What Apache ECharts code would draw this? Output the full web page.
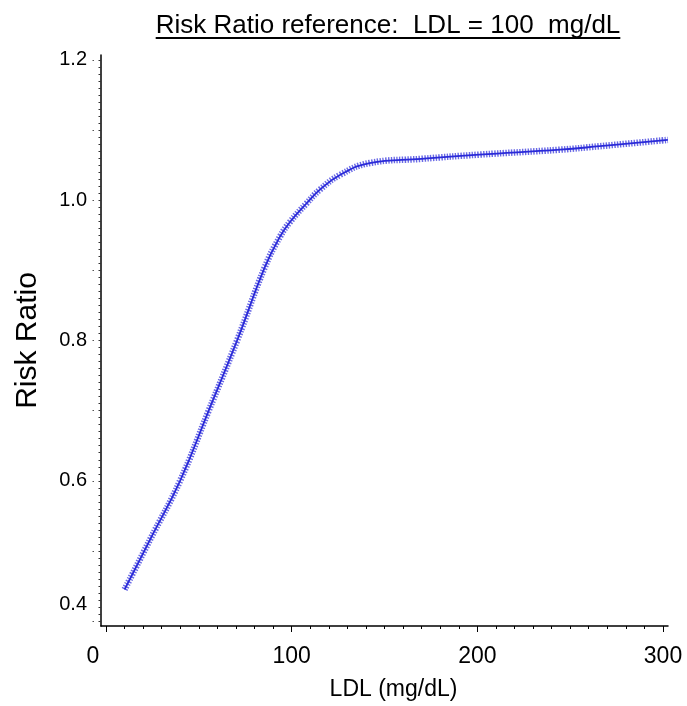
<!DOCTYPE html>
<html>
<head>
<meta charset="utf-8">
<script src="https://cdn.jsdelivr.net/npm/echarts@6/dist/echarts.min.js"></script>
<style>html,body{margin:0;padding:0;background:#fff;}#c{width:687px;height:706px;}</style>
</head>
<body>
<div id="c"></div>
<script>
// values
const ldl  = [10, 23.7, 39.9, 55, 70.6, 85.6, 93.7, 99.1, 108.2, 115.2, 126, 142, 170, 201, 244.5, 266, 302.6];
const risk = [0.445, 0.516, 0.600, 0.698, 0.800, 0.905, 0.948, 0.969, 0.996, 1.015, 1.036, 1.053, 1.059, 1.065, 1.072, 1.077, 1.086];
const xTickLabels = [0, 100, 200, 300];
const yTickLabels = [0.4, 0.6, 0.8, 1.0, 1.2];
const titleText = 'Risk Ratio reference:  LDL = 100  mg/dL';

const xMinor = []; for (let v = 0; v <= 300; v += 10) xMinor.push(v);
const yMinor = []; for (let i = 40; i <= 120; i++) yMinor.push(i / 100);
const yMid = []; for (let i = 4; i <= 12; i++) yMid.push(i / 10);

const pts = ldl.map((x, i) => [x, risk[i]]);
const FONT = '"Liberation Sans", Arial, sans-serif';

const titleFont = '26px ' + FONT;
const cv = document.createElement('canvas').getContext('2d');
cv.font = '26px "Liberation Sans"';
const tw = cv.measureText(titleText).width;
const tcx = 388;

const chart = echarts.init(document.getElementById('c'), null, {renderer: 'canvas'});
const X = {min: -2.7, max: 302.7};
const Y = {min: 0.393, max: 1.207};
chart.setOption({
  animation: false,
  backgroundColor: '#fff',
  grid: {left: 101, right: 19, top: 55, bottom: 80, containLabel: false, outerBoundsMode: 'none'},
  graphic: [
    {type: 'text', x: tcx, y: 26, style: {text: titleText, font: titleFont, fill: '#000', textAlign: 'center', textVerticalAlign: 'middle'}},
    {type: 'rect', shape: {x: tcx - tw / 2, y: 37, width: tw, height: 2}, style: {fill: '#000'}}
  ],
  xAxis: [{
    type: 'value', min: X.min, max: X.max, position: 'bottom',
    name: 'LDL (mg/dL)', nameLocation: 'middle', nameGap: 52,
    nameTextStyle: {fontFamily: FONT, fontSize: 23, color: '#000', padding: [0, 0, 0, 18]},
    axisLine: {show: true, onZero: false, lineStyle: {color: '#000', width: 1.5}},
    axisTick: {show: true, customValues: xTickLabels, length: 6, lineStyle: {color: '#000', width: 1}},
    axisLabel: {
      customValues: xTickLabels, margin: 19, color: '#000', fontFamily: FONT, fontSize: 23,
      formatter: v => v === 0 ? '{z|0}' : String(v),
      rich: {z: {fontFamily: FONT, fontSize: 23, color: '#000', padding: [0, 26, 0, 0]}}
    },
    splitLine: {show: false}
  }, {
    type: 'value', min: X.min, max: X.max, position: 'bottom',
    axisLine: {show: false, onZero: false},
    axisTick: {show: true, customValues: xMinor, length: 3, lineStyle: {color: '#000', width: 1}},
    axisLabel: {show: false}, splitLine: {show: false}
  }],
  yAxis: [{
    type: 'value', min: Y.min, max: Y.max, position: 'left',
    name: 'Risk Ratio', nameLocation: 'middle', nameGap: 58, nameRotate: 90,
    nameTextStyle: {fontFamily: FONT, fontSize: 30, color: '#000'},
    axisLine: {show: true, onZero: false, lineStyle: {color: '#000', width: 1.5}},
    axisTick: {show: true, customValues: yMinor, length: 2.5, lineStyle: {color: '#333', width: 1}},
    axisLabel: {
      customValues: yTickLabels, margin: 14, color: '#000', fontFamily: FONT, fontSize: 20,
      formatter: v => Math.abs(v - 0.4) < 1e-6 ? '{d|0.4}' : v.toFixed(1),
      rich: {d: {fontFamily: FONT, fontSize: 20, color: '#000', padding: [0, 0, 34, 0]}}
    },
    splitLine: {show: false}
  }, {
    type: 'value', min: Y.min, max: Y.max, position: 'left', offset: 7,
    axisLine: {show: false, onZero: false},
    axisTick: {show: true, customValues: yMid, length: 1.5, lineStyle: {color: '#555', width: 1}},
    axisLabel: {show: false}, splitLine: {show: false}
  }],
  series: [{
    type: 'line', data: pts, smooth: 0.45, showSymbol: false, symbol: 'none',
    lineStyle: {color: 'rgba(55,55,220,0.75)', width: 6.5, type: [1.4, 1.4], cap: 'butt'},
    silent: true, z: 2
  }, {
    type: 'line', data: pts, smooth: 0.45, showSymbol: false, symbol: 'none',
    lineStyle: {color: '#2a2ad8', width: 1.8},
    silent: true, z: 3
  }]
});
</script>
</body>
</html>
